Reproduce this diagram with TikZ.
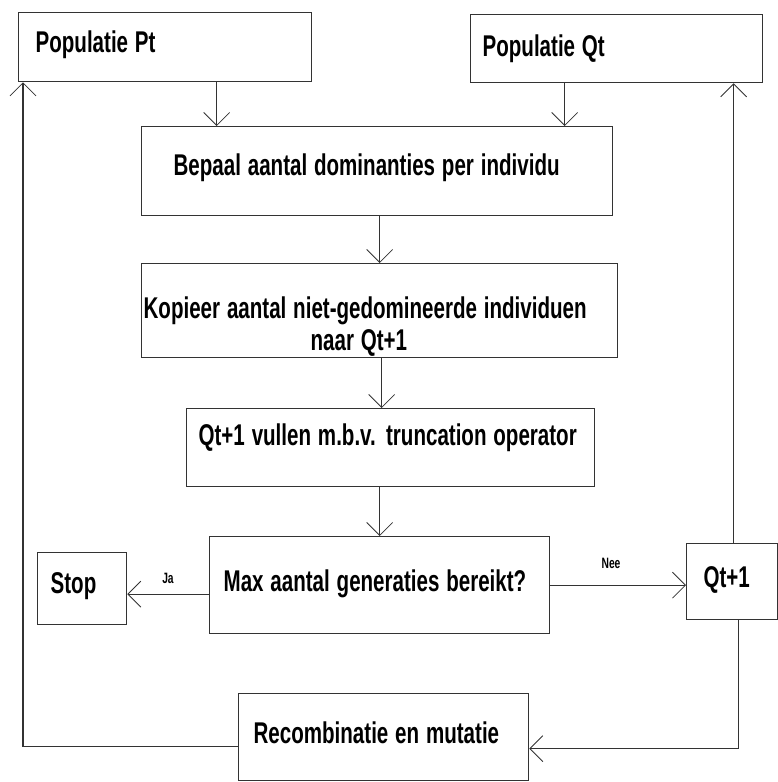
\documentclass[tikz,border=0pt]{standalone}
\usepackage{fontspec}
\usepackage{graphicx}
\setmainfont{Liberation Sans}
\usetikzlibrary{arrows.meta,positioning}
\definecolor{lijnkleur}{HTML}{333333}
\newcommand{\smal}[1]{\scalebox{0.685}[1]{#1}}
\tikzset{
  blok/.style={draw=lijnkleur,line width=1.3pt,fill=white,inner ysep=0pt,align=left,anchor=north west,font=\bfseries\fontsize{30}{32}\selectfont},
  klein/.style={font=\bfseries\fontsize{15}{16}\selectfont,inner sep=0pt},
  lijn/.style={draw=lijnkleur,line width=1.3pt},
  pijl/.style={lijn,-{Straight Barb[length=13pt,width=26pt,line width=0.8pt]}}
}
\begin{document}
\begin{tikzpicture}[x=1pt,y=-1pt]
\path[use as bounding box] (0,0) rectangle (778,782);
% blokken
\node[blok,text width=259pt,inner xsep=17pt,text height=40pt,text depth=29pt] (Pt) at (18,12) {\smal{Populatie Pt}};
\node[blok,text width=268pt,inner xsep=12pt,text height=42pt,text depth=26pt] (Qt) at (470,14) {\smal{Populatie Qt}};
\node[blok,text width=407pt,inner xsep=32pt,text height=49pt,text depth=40pt] (Bepaal) at (141,126) {\smal{Bepaal aantal dominanties per individu}};
\node[blok,text width=472pt,inner xsep=2pt,text height=55pt,text depth=39pt] (Kopieer) at (141,263) {\smal{Kopieer aantal niet-gedomineerde individuen}\\\hspace*{167pt}\smal{naar Qt+1}};
\node[blok,text width=384pt,inner xsep=12pt,text height=37pt,text depth=41pt] (Vullen) at (186,408) {\smal{Qt+1 vullen m.b.v. truncation operator}};
\node[blok,text width=312pt,inner xsep=14pt,text height=55pt,text depth=42pt] (Max) at (209,536) {\smal{Max aantal generaties bereikt?}};
\node[blok,text width=63pt,inner xsep=13pt,text height=41pt,text depth=31pt] (Stop) at (37,552) {\smal{Stop}};
\node[blok,text width=57pt,inner xsep=17pt,text height=44pt,text depth=32pt] (Qt1) at (686,543) {\smal{Qt+1}};
\node[blok,text width=260pt,inner xsep=15pt,text height=50pt,text depth=37pt] (Recomb) at (238,693) {\smal{Recombinatie en mutatie}};
% labels
\node[klein] (ja) at (168,578) {\smal{Ja}};
\node[klein] (nee) at (611,563) {\smal{Nee}};
% pijlen
\draw[pijl] ([xshift=51.5pt]Pt.south) -- ([xshift=51.5pt]Pt.south |- Bepaal.north);
\draw[pijl] ([xshift=-52pt]Qt.south) -- ([xshift=-52pt]Qt.south |- Bepaal.north);
\draw[pijl] (Kopieer.north |- Bepaal.south) -- (Kopieer.north);
\draw[pijl] ([xshift=2pt]Kopieer.south) -- ([xshift=2pt]Kopieer.south |- Vullen.north);
\draw[pijl] (Max.north |- Vullen.south) -- (Max.north);
\draw[pijl] (Max.west) ++(0,9) coordinate (jastart) -- (jastart -| Stop.east);
\draw[pijl] (Max.east) -- (Max.east -| Qt1.west);
\draw[pijl] ([xshift=1.5pt]Qt1.north) -- ([xshift=1.5pt]Qt1.north |- Qt.south);
\draw[pijl] ([xshift=6.5pt]Qt1.south) |- ([yshift=-11.5pt]Recomb.east);
\draw[pijl] ([yshift=-9.5pt]Recomb.west) -| ([xshift=5pt]Pt.south west);
\end{tikzpicture}
\end{document}
